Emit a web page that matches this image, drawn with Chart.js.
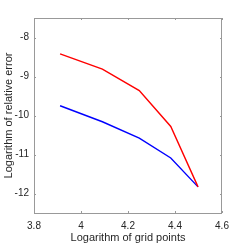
<!DOCTYPE html>
<html><head><meta charset="utf-8">
<script src="https://cdn.jsdelivr.net/npm/chart.js@4/dist/chart.umd.min.js"></script>
<style>html,body{margin:0;padding:0;background:#fff}#wrap{width:245px;height:245px}</style>
</head><body><div id="wrap"><canvas id="c" width="245" height="245"></canvas></div>
<script>
const gridLogs = [3.911, 4.091, 4.248, 4.382, 4.498];
const errRed = [-8.42, -8.81, -9.36, -10.28, -11.83];
const errBlue = [-9.75, -10.16, -10.58, -11.09, -11.83];
const xTicks = [3.8, 4.0, 4.2, 4.4, 4.6];
const yTicks = [-12, -11, -10, -9, -8];
const xTitle = 'Logarithm of grid points';
const yTitle = 'Logarithm of relative error';

const AX = '#999999';
const TXT = '#262626';
const FONT = 'Liberation Sans, Arial, sans-serif';

const boxTicks = {
  id: 'boxTicks',
  afterDraw(chart) {
    const {ctx, chartArea: a, scales: {x, y}} = chart;
    ctx.save();
    ctx.strokeStyle = AX;
    ctx.lineWidth = 1;
    ctx.strokeRect(a.left + 0.5, a.top + 0.5, a.right - a.left - 1, a.bottom - a.top);
    ctx.beginPath();
    const L = 2;
    xTicks.forEach(v => {
      const px = Math.round(x.getPixelForValue(v)) + 0.5;
      ctx.moveTo(px, a.bottom); ctx.lineTo(px, a.bottom - L);
      ctx.moveTo(px, a.top); ctx.lineTo(px, a.top + L);
    });
    yTicks.forEach(v => {
      const py = Math.round(y.getPixelForValue(v)) + 0.5;
      ctx.moveTo(a.left, py); ctx.lineTo(a.left + L, py);
      ctx.moveTo(a.right, py); ctx.lineTo(a.right - L, py);
    });
    ctx.stroke();
    ctx.restore();
  }
};

new Chart(document.getElementById('c'), {
  type: 'line',
  data: {
    datasets: [
      {data: gridLogs.map((v, i) => ({x: v, y: errRed[i]})), borderColor: '#ff0000', borderWidth: 1.4, pointRadius: 0, fill: false, tension: 0},
      {data: gridLogs.map((v, i) => ({x: v, y: errBlue[i]})), borderColor: '#0000ff', borderWidth: 1.4, pointRadius: 0, fill: false, tension: 0}
    ]
  },
  options: {
    responsive: false,
    animation: false,
    devicePixelRatio: 1,
    layout: {padding: {top: 18, right: 23, left: 0, bottom: 0}},
    plugins: {legend: {display: false}, tooltip: {enabled: false}},
    scales: {
      x: {
        type: 'linear', min: 3.8, max: 4.6,
        afterFit(s) { s.height = 32; },
        afterBuildTicks(s) { s.ticks = xTicks.map(v => ({value: v})); },
        grid: {display: false, drawTicks: false},
        border: {display: false},
        ticks: {padding: 7, color: TXT, font: {family: FONT, size: 10}, maxRotation: 0,
          callback: v => (Math.abs(v - 4) < 1e-9 ? '4' : String(+v.toFixed(1)))},
        title: {display: true, text: xTitle, color: TXT, font: {family: FONT, size: 11}, padding: {top: 0, bottom: 0}}
      },
      y: {
        type: 'linear', min: -12.5, max: -7.5,
        afterFit(s) { s.width = 34; },
        afterBuildTicks(s) { s.ticks = yTicks.map(v => ({value: v})); },
        grid: {display: false, drawTicks: false},
        border: {display: false},
        ticks: {padding: 5, color: TXT, font: {family: FONT, size: 10}, callback: v => String(v)},
        title: {display: true, text: yTitle, color: TXT, font: {family: FONT, size: 11}, padding: {top: 2, bottom: 0}}
      }
    }
  },
  plugins: [boxTicks]
});
</script></body></html>
